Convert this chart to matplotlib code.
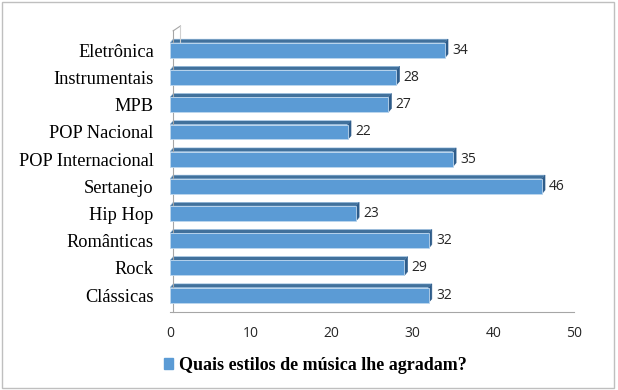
import matplotlib
matplotlib.use("Agg")
import matplotlib.pyplot as plt
import matplotlib.patches as mpatches
from matplotlib.patches import Polygon, Rectangle
import numpy as np

# Data (bottom to top)
categories = ["Clássicas", "Rock", "Românticas", "Hip Hop", "Sertanejo",
              "POP Internacional", "POP Nacional", "MPB", "Instrumentais", "Eletrônica"]
values = [32, 29, 32, 23, 46, 35, 22, 27, 28, 34]
series_name = "Quais estilos de música lhe agradam?"

FRONT = "#5B9BD5"
TOP = "#41719C"
SIDE = "#2E5C8A"

fig = plt.figure(figsize=(6.18, 3.9), dpi=100)
ax = fig.add_axes([0.275, 0.2, 0.654, 0.723])

h = 0.55      # bar thickness
dx = 0.4      # depth offset in x (data units)
dy = 0.14     # depth offset in y (data units)

# spines first (set_position resets the ticks)
for s in ["top", "right"]:
    ax.spines[s].set_visible(False)
ax.spines["left"].set_color("#A6A6A6")
ax.spines["bottom"].set_color("#A6A6A6")
ax.spines["left"].set_position(("data", dx))

y = np.arange(len(categories))
ax.barh(y, values, height=h, color=FRONT, edgecolor="#BDD7EE", linewidth=0.6, zorder=3)
for yi, v in zip(y, values):
    top = Polygon([(0, yi + h / 2), (v, yi + h / 2), (v + dx, yi + h / 2 + dy), (dx, yi + h / 2 + dy)],
                  closed=True, facecolor=TOP, edgecolor="#9DC3E6", linewidth=0.4, zorder=2)
    side = Polygon([(v, yi - h / 2), (v + dx, yi - h / 2 + dy), (v + dx, yi + h / 2 + dy), (v, yi + h / 2)],
                   closed=True, facecolor=SIDE, edgecolor=SIDE, linewidth=0.4, zorder=2)
    ax.add_patch(top)
    ax.add_patch(side)
    ax.text(v + dx + 0.5, yi, f"{v}", va="center", ha="left", fontsize=10,
            family="Open Sans", color="#262626")

ax.set_xlim(0, 50)
ax.set_ylim(-0.62, 9.75)
ax.set_xticks(np.arange(0, 51, 10))
ax.set_yticks(y)
ax.set_yticklabels(categories, fontfamily="Liberation Serif", fontsize=13.2)
ax.set_xticklabels([str(t) for t in range(0, 51, 10)], fontfamily="Open Sans", fontsize=10)
ax.tick_params(axis="x", length=0, pad=10, labelcolor="#262626")
ax.tick_params(axis="y", length=0, pad=14, labelcolor="black")

# little depth line at top-left of side wall
ax.plot([dx, dx + 0.9], [9.72, 9.9], color="#A6A6A6", lw=0.8, clip_on=False)
ax.plot([dx + 0.9, dx + 0.9], [9.9, 9.0], color="#D0D0D0", lw=0.8, clip_on=False)

handle = mpatches.Patch(color=FRONT, label=series_name)
fig.legend(handles=[handle], loc="lower center", bbox_to_anchor=(0.51, 0.0), frameon=False,
           prop={"family": "Liberation Serif", "weight": "bold", "size": 13},
           handlelength=0.55, handleheight=0.55, handletextpad=0.3)

fig.add_artist(Rectangle((0.004, 0.004), 0.99, 0.99, transform=fig.transFigure,
                         fill=False, edgecolor="#BFBFBF", linewidth=1))

fig.savefig("out.png", dpi=100)
